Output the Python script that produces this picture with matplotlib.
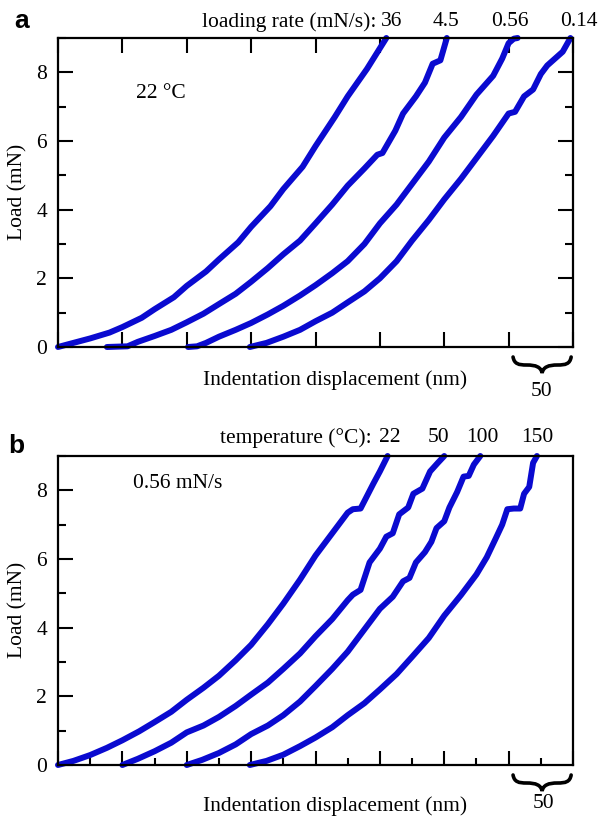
import matplotlib
matplotlib.use("Agg")
import matplotlib.pyplot as plt
from matplotlib.path import Path
from matplotlib.patches import PathPatch
from matplotlib.transforms import blended_transform_factory
from matplotlib.ticker import MultipleLocator

plt.rcParams['font.family'] = ['Liberation Serif', 'DejaVu Serif']

# ---------------- data ----------------
# panel a: loading rates (mN/s), 22 °C
rate_labels = ["36", "4.5", "0.56", "0.14"]
a1_x = [0, 10, 25, 40, 50, 65, 75, 90, 100, 115, 125, 140, 150, 165, 175, 190, 200, 215, 225, 240, 255]
a1_y = [0, 0.1, 0.25, 0.42, 0.58, 0.85, 1.1, 1.45, 1.78, 2.2, 2.55, 3.05, 3.5, 4.1, 4.6, 5.25, 5.85, 6.7, 7.3, 8.1, 9.0]
a2_x = [38, 54, 62, 75, 88, 100, 113, 125, 138, 150, 163, 175, 188, 200, 213, 225, 238, 248, 252, 262, 268, 278, 285, 291, 297, 302]
a2_y = [0, 0.02, 0.15, 0.32, 0.5, 0.72, 0.97, 1.25, 1.55, 1.9, 2.3, 2.7, 3.1, 3.6, 4.15, 4.7, 5.2, 5.6, 5.65, 6.3, 6.8, 7.3, 7.7, 8.25, 8.35, 9.0]
a3_x = [101, 108, 115, 125, 138, 150, 163, 175, 188, 200, 213, 225, 238, 250, 263, 275, 288, 300, 313, 325, 338, 345, 350, 354, 357]
a3_y = [0, 0.02, 0.12, 0.3, 0.5, 0.7, 0.95, 1.2, 1.5, 1.8, 2.15, 2.5, 3.0, 3.6, 4.15, 4.75, 5.4, 6.1, 6.7, 7.35, 7.9, 8.4, 8.85, 8.98, 9.0]
a4_x = [149, 162, 175, 188, 200, 213, 225, 238, 250, 263, 275, 288, 300, 313, 325, 338, 350, 355, 362, 369, 375, 380, 386, 392, 398]
a4_y = [0, 0.12, 0.3, 0.5, 0.75, 1.0, 1.3, 1.62, 2.0, 2.5, 3.1, 3.7, 4.3, 4.9, 5.5, 6.15, 6.8, 6.85, 7.3, 7.5, 7.95, 8.2, 8.4, 8.6, 9.0]

# panel b: temperatures (°C), 0.56 mN/s
temp_labels = ["22", "50", "100", "150"]
b1_x = [0, 12, 25, 38, 50, 63, 75, 88, 100, 113, 125, 138, 150, 163, 175, 188, 200, 212, 225, 229, 235, 245, 250, 256]
b1_y = [0, 0.12, 0.29, 0.5, 0.72, 0.98, 1.25, 1.55, 1.9, 2.25, 2.6, 3.05, 3.5, 4.1, 4.7, 5.4, 6.1, 6.7, 7.35, 7.45, 7.47, 8.2, 8.55, 9.0]
b2_x = [50, 62, 75, 88, 100, 113, 125, 138, 150, 163, 175, 188, 200, 213, 225, 229, 235, 242, 250, 255, 260, 265, 272, 276, 283, 289, 295, 300]
b2_y = [0, 0.18, 0.4, 0.65, 0.95, 1.15, 1.4, 1.72, 2.05, 2.4, 2.8, 3.25, 3.75, 4.25, 4.8, 4.96, 5.1, 5.9, 6.3, 6.65, 6.75, 7.3, 7.5, 7.9, 8.05, 8.55, 8.8, 9.0]
b3_x = [100, 112, 125, 138, 150, 163, 175, 188, 200, 213, 225, 238, 250, 260, 268, 273, 278, 285, 290, 294, 300, 304, 310, 315, 319, 323, 328]
b3_y = [0, 0.15, 0.35, 0.6, 0.9, 1.15, 1.45, 1.85, 2.3, 2.8, 3.3, 3.95, 4.55, 4.9, 5.35, 5.45, 5.9, 6.2, 6.5, 6.9, 7.1, 7.5, 7.95, 8.4, 8.42, 8.75, 9.0]
b4_x = [149, 162, 175, 188, 200, 213, 225, 238, 250, 263, 275, 288, 300, 313, 325, 333, 340, 345, 349, 354, 359, 362, 366, 369, 372]
b4_y = [0, 0.12, 0.3, 0.55, 0.8, 1.1, 1.45, 1.8, 2.2, 2.65, 3.15, 3.7, 4.35, 4.95, 5.55, 6.05, 6.6, 7.0, 7.45, 7.47, 7.47, 7.9, 8.1, 8.8, 9.0]

W, H = 602, 818
fig = plt.figure(figsize=(W / 100, H / 100), dpi=100)

def fx(px):
    return px / W

def fy(py):
    return 1 - py / H

BLUE = '#0a0ad0'
FS = 15.5

def make_axes(top_px, bottom_px):
    return fig.add_axes([fx(58), fy(bottom_px), fx(573) - fx(58), fy(top_px) - fy(bottom_px)])

axA = make_axes(38, 347)
axB = make_axes(456, 765)

def style(ax, panel_top):
    ax.set_xlim(0, 400)
    ax.set_ylim(0, 9)
    for s in ax.spines.values():
        s.set_linewidth(1.6)
    ax.xaxis.set_major_locator(MultipleLocator(50))
    ax.yaxis.set_minor_locator(MultipleLocator(1))
    ax.set_yticks([0, 2, 4, 6, 8])
    ax.set_yticklabels(["0", "2", "4", "6", "8"], fontsize=FS)
    if panel_top:
        ax.tick_params(axis='x', which='major', direction='in', top=True, bottom=True,
                       length=11, width=1.5, labelbottom=False)
        ax.tick_params(axis='y', which='major', direction='in', left=True, right=True,
                       length=11, width=1.5, pad=8)
        ax.tick_params(axis='y', which='minor', direction='in', left=True, right=True,
                       length=5.5, width=1.5)
    else:
        ax.xaxis.set_minor_locator(MultipleLocator(25))
        ax.tick_params(axis='x', which='major', direction='in', top=False, bottom=True,
                       length=10, width=1.5, labelbottom=False)
        ax.tick_params(axis='x', which='minor', direction='in', top=False, bottom=True,
                       length=5, width=1.5)
        ax.tick_params(axis='y', which='major', direction='in', left=True, right=False,
                       length=11, width=1.5, pad=8)
        ax.tick_params(axis='y', which='minor', direction='in', left=True, right=False,
                       length=5.5, width=1.5)

style(axA, True)
style(axB, False)

for xs, ys in [(a1_x, a1_y), (a2_x, a2_y), (a3_x, a3_y), (a4_x, a4_y)]:
    axA.plot(xs, ys, color=BLUE, lw=4.3, solid_capstyle='round', solid_joinstyle='round', clip_on=False)
for xs, ys in [(b1_x, b1_y), (b2_x, b2_y), (b3_x, b3_y), (b4_x, b4_y)]:
    axB.plot(xs, ys, color=BLUE, lw=4.3, solid_capstyle='round', solid_joinstyle='round', clip_on=False)

# brace under the last 50 nm interval
def brace(ax, x0, x1):
    tr = blended_transform_factory(ax.transData, ax.transAxes)
    hpx = 309.0
    def v(p):
        return -p / hpx
    xm = (x0 + x1) / 2
    w = x1 - x0
    verts = [
        (x0 + 0.03 * w, v(10)),
        (x0 + 0.05 * w, v(17)), (x0 + 0.12 * w, v(18)), (x0 + 0.25 * w, v(18)),
        (x0 + 0.40 * w, v(18)), (xm - 0.02 * w, v(20)), (xm, v(26)),
        (xm + 0.02 * w, v(20)), (x1 - 0.40 * w, v(18)), (x1 - 0.25 * w, v(18)),
        (x1 - 0.12 * w, v(18)), (x1 - 0.05 * w, v(17)), (x1 - 0.03 * w, v(10)),
    ]
    codes = [Path.MOVETO] + [Path.CURVE4] * 12
    p = PathPatch(Path(verts, codes), transform=tr, fill=False, lw=2.6,
                  edgecolor='black', clip_on=False, capstyle='round')
    ax.add_patch(p)

brace(axA, 352, 400)
brace(axB, 352, 400)

# texts
fig.text(fx(14), fy(28), "a", fontsize=19, fontweight='bold', family=['Liberation Sans', 'DejaVu Sans'],
         ha='left', va='baseline')
fig.text(fx(8), fy(453), "b", fontsize=19, fontweight='bold', family=['Liberation Sans', 'DejaVu Sans'],
         ha='left', va='baseline')

fig.text(fx(18), fy(192), "Load (mN)", fontsize=FS, rotation=90, ha='center', va='center')
fig.text(fx(18), fy(610), "Load (mN)", fontsize=FS, rotation=90, ha='center', va='center')

fig.text(fx(376), fy(22), "loading rate (mN/s):", fontsize=FS, ha='right', va='center')
for lab, px in zip(rate_labels, [392, 446, 510, 579]):
    fig.text(fx(px), fy(22), lab, fontsize=FS, ha='center', va='center')

fig.text(fx(372), fy(438), "temperature (°C):", fontsize=FS, ha='right', va='center')
for lab, px in zip(temp_labels, [390, 439, 482, 537]):
    fig.text(fx(px), fy(438), lab, fontsize=FS, ha='center', va='center')

fig.text(fx(136), fy(93), "22 °C", fontsize=FS, ha='left', va='center')
fig.text(fx(133), fy(483), "0.56 mN/s", fontsize=FS, ha='left', va='center')

fig.text(fx(335), fy(380), "Indentation displacement (nm)", fontsize=FS, ha='center', va='center')
fig.text(fx(335), fy(806), "Indentation displacement (nm)", fontsize=FS, ha='center', va='center')
fig.text(fx(541), fy(392), "50", fontsize=FS, ha='center', va='center')
fig.text(fx(543), fy(803), "50", fontsize=FS, ha='center', va='center')

fig.savefig("out.png", dpi=100)
